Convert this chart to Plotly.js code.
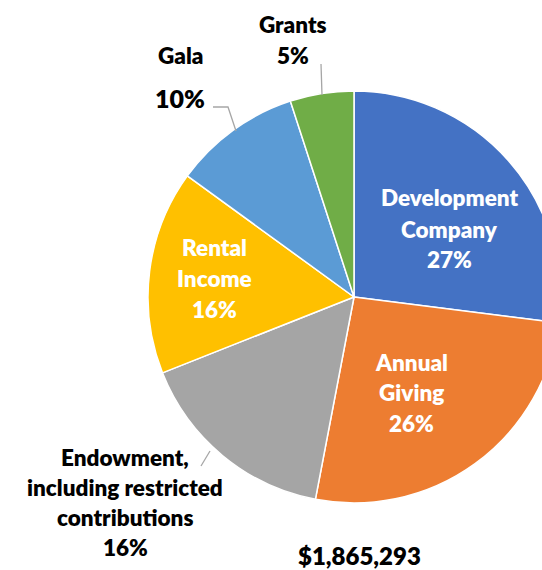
<!DOCTYPE html>
<html><head><meta charset="utf-8">
<script src="https://cdn.plot.ly/plotly-3.0.1.min.js"></script>
<style>html,body{margin:0;padding:0;overflow:hidden;background:#fff;width:542px;height:570px}</style>
</head><body><div id="chart"></div>
<script>
const categories = ["Development Company","Annual Giving","Endowment, including restricted contributions","Rental Income","Gala","Grants"];
const percentValues = [27, 26, 16, 16, 10, 5];
const sliceColors = ["#4472C4","#ED7D31","#A5A5A5","#FFC000","#5B9BD5","#70AD47"];
const totalLabel = "$1,865,293";
const labelLines = [["Development","Company"],["Annual","Giving"],["Endowment,","including restricted","contributions"],["Rental","Income"],["Gala"],["Grants"]];

const W = 600, H = 570;
const cx = 354, cy = 297, R = 206;
const FONT = "Lato, 'Open Sans', sans-serif";
function px(x){return x/W;}
function py(y){return 1 - y/H;}

const total = percentValues.reduce((a,b)=>a+b,0);
const pct = percentValues.map(v => Math.round(v/total*100) + "%");

// label placement (pixel centres of each text line), colour, size
const place = [
  {x:449, ys:[198,229,259], color:"#fff", size:22.5, pctSize:22.5},
  {x:411, ys:[362,392,423], color:"#fff", size:22.5, pctSize:22.5},
  {x:125, ys:[457,487,517,547], color:"#000", size:22.5, pctSize:22.5},
  {x:214, ys:[247,278,309], color:"#fff", size:22.5, pctSize:22.5},
  {x:180, ys:[56,98], color:"#000", size:22.5, pctSize:25},
  {x:293, ys:[24,56], color:"#000", size:22.5, pctSize:22.5}
];

const annotations = [];
categories.forEach((c,i)=>{
  const p = place[i];
  const lines = labelLines[i].concat([pct[i]]);
  lines.forEach((t,j)=>{
    const isPct = j === lines.length-1;
    annotations.push({
      xref:"paper", yref:"paper", x:px(p.x), y:py(p.ys[j]),
      xanchor:"center", yanchor:"middle", showarrow:false,
      text:t,
      font:{family:FONT, size:isPct?p.pctSize:p.size, color:p.color, weight:800}
    });
  });
});
annotations.push({xref:"paper", yref:"paper", x:px(359), y:py(555), xanchor:"center", yanchor:"middle",
  showarrow:false, text:totalLabel, font:{family:FONT, size:24, color:"#000", weight:800}});

const lineStyle = {color:"#A6A6A6", width:1.3};
const shapes = [
  {type:"line", xref:"paper", yref:"paper", x0:px(321), y0:py(64), x1:px(322), y1:py(95), line:lineStyle},
  {type:"path", xref:"paper", yref:"paper",
   path:`M ${px(213)} ${py(107)} L ${px(228)} ${py(107)} L ${px(236)} ${py(131)}`, line:lineStyle},
  {type:"line", xref:"paper", yref:"paper", x0:px(201), y0:py(466), x1:px(210), y1:py(451), line:lineStyle}
];

const trace = {
  type:"pie",
  values: percentValues,
  labels: categories,
  sort:false,
  direction:"clockwise",
  rotation:0,
  marker:{colors:sliceColors, line:{color:"#fff", width:1.5}},
  textinfo:"none",
  hoverinfo:"none",
  showlegend:false,
  domain:{x:[(cx-R)/W,(cx+R)/W], y:[(H-cy-R)/H,(H-cy+R)/H]}
};

Plotly.newPlot("chart",[trace],{
  width:W, height:H,
  margin:{l:0,r:0,t:0,b:0},
  paper_bgcolor:"#fff",
  showlegend:false,
  annotations, shapes
},{displayModeBar:false, staticPlot:true});
</script></body></html>
